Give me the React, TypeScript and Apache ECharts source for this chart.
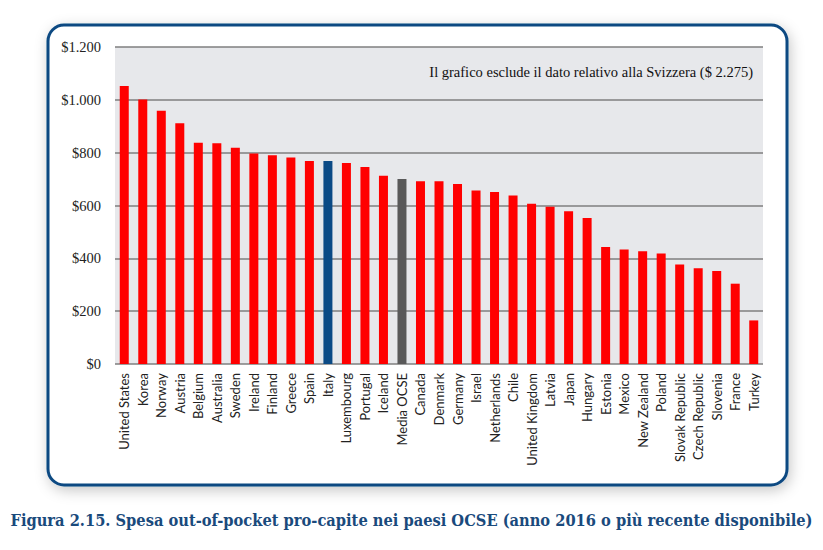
import React, { useEffect, useRef } from "react";
import * as echarts from "echarts";

const categories = [
  "United States", "Korea", "Norway", "Austria", "Belgium", "Australia", "Sweden",
  "Ireland", "Finland", "Greece", "Spain", "Italy", "Luxembourg", "Portugal",
  "Iceland", "Media OCSE", "Canada", "Denmark", "Germany", "Israel", "Netherlands",
  "Chile", "United Kingdom", "Latvia", "Japan", "Hungary", "Estonia", "Mexico",
  "New Zealand", "Poland", "Slovak Republic", "Czech Republic", "Slovenia",
  "France", "Turkey",
];

const values = [
  1052, 1001, 959, 911, 838, 836, 819, 797, 790, 782, 768, 768, 761, 746, 713,
  700, 692, 692, 681, 657, 651, 638, 607, 595, 578, 553, 443, 433, 427, 418,
  377, 362, 352, 304, 165,
];

const yTicks = [0, 200, 400, 600, 800, 1000, 1200];

const note = "Il grafico esclude il dato relativo alla Svizzera ($ 2.275)";
const caption =
  "Figura 2.15. Spesa out-of-pocket pro-capite nei paesi OCSE (anno 2016 o più recente disponibile)";

const RED = "#FF0000";
const BLUE = "#0B4A85";
const GRAY = "#595959";

function colorFor(name: string) {
  if (name === "Italy") return BLUE;
  if (name === "Media OCSE") return GRAY;
  return RED;
}

function fmt(v: number) {
  const s = String(v);
  if (v >= 1000) return "$" + s.slice(0, s.length - 3) + "." + s.slice(-3);
  return "$" + s;
}

export default function App() {
  const ref = useRef<HTMLDivElement>(null);
  useEffect(() => {
    if (!ref.current) return;
    const chart = echarts.init(ref.current, null, { renderer: "svg" });
    chart.setOption({
      animation: false,
      backgroundColor: "#FFFFFF",
      graphic: [
        {
          type: "rect",
          z: -10,
          silent: true,
          shape: { x: 48, y: 25, width: 739, height: 460, r: 16 },
          style: {
            fill: "#FFFFFF",
            stroke: "#0B4A82",
            lineWidth: 3,
            shadowBlur: 14,
            shadowColor: "rgba(0,0,0,0.22)",
            shadowOffsetX: 2,
            shadowOffsetY: 4,
          },
        },
        {
          type: "text",
          z: 10,
          right: 823 - 753,
          top: 64,
          style: {
            text: note,
            font: "14.5px Liberation Serif, serif",
            fill: "#111111",
            textAlign: "right",
          },
        },
        {
          type: "text",
          z: 10,
          left: "center",
          top: 512,
          style: {
            text: caption,
            font: "bold 16.3px DejaVu Serif Condensed, DejaVu Serif, serif",
            fill: "#1A4A7C",
          },
        },
      ],
      grid: {
        left: 115,
        right: 60,
        top: 47,
        bottom: 186,
        show: true,
        backgroundColor: "#E7E8EB",
        borderWidth: 0,
        containLabel: false,
      },
      xAxis: {
        type: "category",
        data: categories,
        axisLine: { show: false },
        axisTick: { show: false },
        axisLabel: {
          rotate: 90,
          interval: 0,
          margin: 9,
          fontFamily: "Lato",
          fontSize: 13,
          color: "#222222",
        },
      },
      yAxis: {
        type: "value",
        min: 0,
        max: yTicks[yTicks.length - 1],
        interval: yTicks[1] - yTicks[0],
        axisLine: { show: false },
        axisTick: { show: false },
        splitLine: { lineStyle: { color: "#7F7F7F", width: 1.5 } },
        axisLabel: {
          margin: 14,
          formatter: (v: number) => fmt(v),
          fontFamily: "serif",
          fontSize: 14.5,
          color: "#222222",
        },
      },
      series: [
        {
          type: "bar",
          barWidth: 9,
          data: categories.map((c, i) => ({
            value: values[i],
            itemStyle: { color: colorFor(c) },
          })),
        },
      ],
    });
    return () => chart.dispose();
  }, []);
  return (
    <div
      ref={ref}
      style={{ position: "fixed", left: 0, top: 0, width: 823, height: 550 }}
    />
  );
}
